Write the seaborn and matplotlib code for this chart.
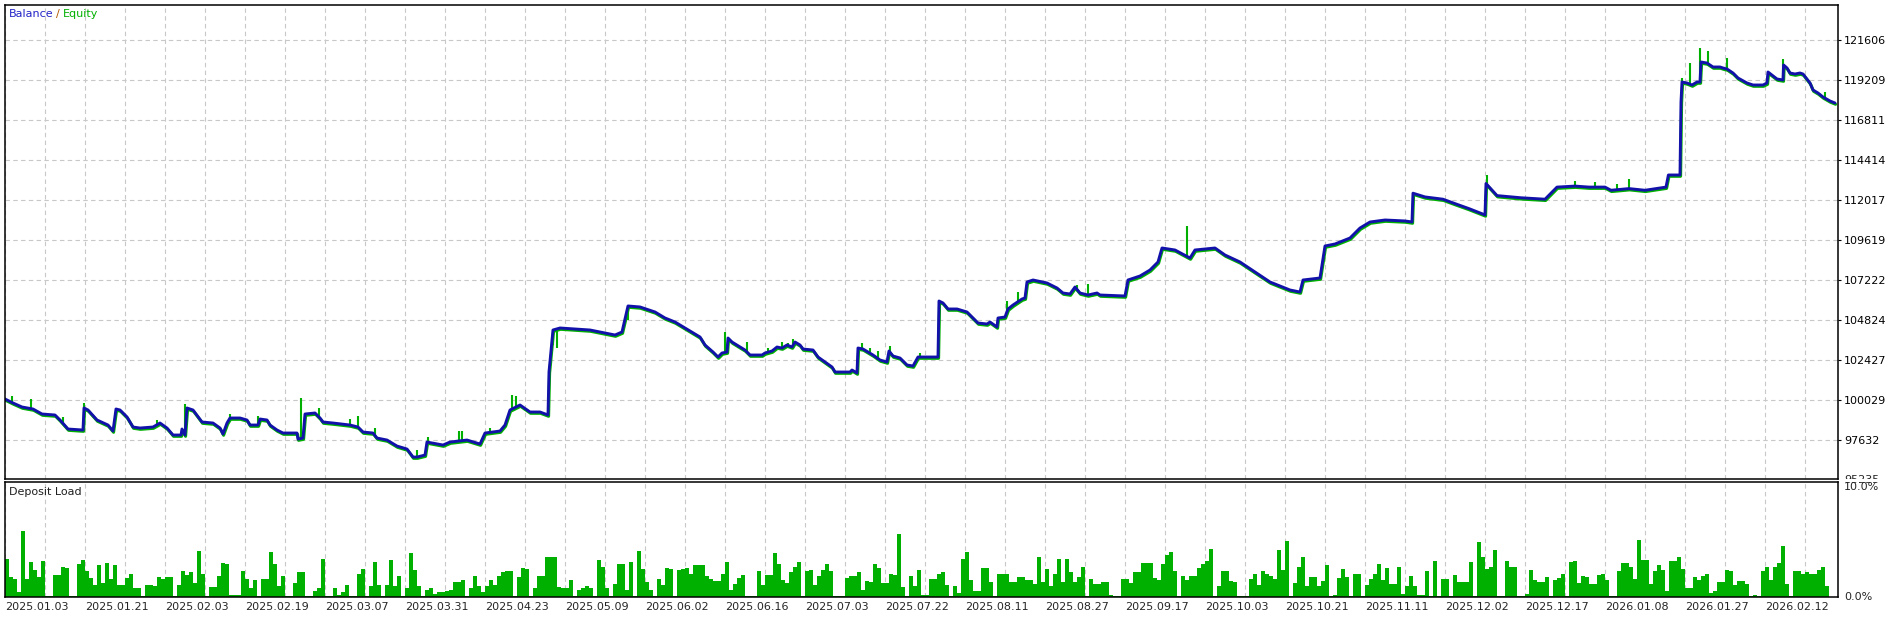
import numpy as np
import pandas as pd
import matplotlib
matplotlib.use("Agg")
import matplotlib.pyplot as plt
from matplotlib.patches import Rectangle
from matplotlib.transforms import offset_copy
import seaborn as sns

# Colors of the MT5 tester report
BLUE = "#1212AA"
GREEN = "#00B000"
GRID = "#C8C8C8"

W, H = 1893, 617

# x axis is the deal counter, every 40th deal gets its date
tick_dates = ["2025.01.03", "2025.01.21", "2025.02.03", "2025.02.19", "2025.03.07", "2025.03.31",
              "2025.04.23", "2025.05.09", "2025.06.02", "2025.06.16", "2025.07.03", "2025.07.22",
              "2025.08.11", "2025.08.27", "2025.09.17", "2025.10.03", "2025.10.21", "2025.11.11",
              "2025.12.02", "2025.12.17", "2026.01.08", "2026.01.27", "2026.02.12"]
deals_per_label = 40
n_deals = 916.5

price_ticks = [95235, 97632, 100029, 102427, 104824, 107222, 109619, 112017, 114414, 116811, 119209, 121606]

# Balance curve (deal, balance)
bal_x = [0, 4, 8.5, 14, 18.5, 25, 27.5, 31.5, 39, 39.5, 41.5, 46, 51.5, 54, 55.5, 57.5, 61, 64, 67.5, 74,
         77.5, 81, 84, 88, 88.5, 90, 91, 94, 98.5, 104, 107.5, 109, 111, 112.5, 117.5, 121, 122.5, 126.5,
         127.5, 131, 132.5, 136, 139, 146, 146.5, 149, 150, 155, 157.5, 159, 164, 172.5, 176.5, 179, 184,
         186, 191, 196, 201, 204, 206, 210, 211, 219, 222.5, 231, 237.5, 240, 247.5,
         250, 252.5, 257.5, 262.5, 267.5, 271.5, 272, 274, 277.5, 285, 292.5, 300, 305, 308.5, 311.5,
         317.5, 325, 330, 335, 340, 345, 347.5,
         350, 354, 356.5, 358.5, 361, 361.5, 363.5, 367.5, 370, 372.5, 378.5, 380, 383.5, 386, 388.5,
         391, 393.5, 395, 397.5, 399, 404, 406.5, 410, 413.5, 415, 422.5, 423.5, 426, 426.5, 429, 434,
         437.5, 441, 442, 444, 447.5, 451, 454, 456.5, 466.5, 467, 469, 471.5, 476, 481, 484, 486.5,
         491, 492.5, 496, 496.5, 500, 501.5, 504, 508.5, 510, 511, 514, 521, 526, 529, 532.5, 535,
         537.5, 541.5, 546,
         547.5, 560, 561.5, 567.5, 572.5, 576.5, 578.5, 585, 592.5, 595, 605, 610, 617.5, 625, 632.5,
         642.5, 647.5, 649, 657.5, 660, 665, 672.5, 677.5, 682.5, 690, 700, 703.5, 704, 710, 719,
         725, 732, 740, 740.5, 746, 758, 770, 773, 776, 785, 792, 800, 803, 812, 820, 830.5, 831.7,
         837.5, 838, 838.5, 841, 843.5, 846, 847.5, 848, 851, 852.5,
         854, 857.5, 859, 861, 864, 866.5, 871, 874, 879, 881, 881.5, 886, 889, 889.3, 891, 892.5, 895,
         897.5, 899, 902.5, 904, 906.5, 909, 912.5, 915]
bal_y = [100089, 99850, 99610, 99490, 99190, 99130, 98830, 98290, 98230, 99550, 99430, 98830, 98530,
         98170, 99490, 99430, 99010, 98410, 98350, 98410, 98650, 98350, 97930, 97930, 98290, 97930,
         99550, 99430, 98710, 98650, 98350, 97990, 98650, 98950, 98950, 98830, 98530, 98530, 98890,
         98830, 98530, 98230, 98050, 98050, 97690, 97750, 99190, 99250, 98950, 98710, 98650, 98530,
         98410, 98110, 98050, 97750, 97630, 97270, 97090, 96610, 96610, 96730, 97510, 97330, 97510,
         97630, 97390, 98050, 98170,
         98530, 99430, 99730, 99310, 99310, 99130, 101710, 104225, 104345, 104285, 104225, 104045,
         103925, 104105, 105665, 105605, 105305, 104945, 104705, 104345, 103985, 103805,
         103325, 102906, 102606, 102846, 102906, 103745, 103505, 103205, 103025, 102726, 102726,
         102846, 102966, 103205, 103145, 103325, 103205, 103505, 103325, 103085, 103025, 102606,
         102307, 102007, 101707, 101707, 101827, 101647, 103145, 103085, 102726, 102427, 102307,
         102966, 102666, 102546, 102127, 102067, 102606, 102606, 105963, 105843, 105484, 105484,
         105304, 104944, 104644, 104584, 104704, 104405, 104944, 105004, 105484, 105723, 106083,
         106143, 107102, 107222, 107042, 106742, 106442, 106383, 106802, 106442, 106323, 106442,
         106323, 106263, 107222, 107462, 107821, 108301, 109140, 109020, 108540, 109020, 109140,
         108720, 108301, 107702, 107102, 106622, 106502, 107222, 107342, 109260, 109380, 109739,
         110338, 110698, 110818, 110760, 110700, 112424, 112200, 112064, 111800, 111500, 111123,
         113005, 112280, 112150, 112064, 112424, 112790, 112850, 112790, 112790, 112600, 112700,
         112600, 112790, 113515, 113515, 117890, 119089, 119029, 118909, 119089, 119089,
         120287, 120227, 120108, 119988, 119988, 119928, 119868, 119628, 119329, 119029, 118909,
         118909, 119029, 119688, 119269, 119209, 120108, 119928, 119628, 119568, 119628, 119568,
         119029, 118609, 118429, 118190, 117950, 117830]

# Equity excursions away from the balance (deal, equity)
spike_x = [3.5, 13, 29, 39.5, 76, 90, 112.5, 126.5, 131.5, 148, 157, 172.5, 176.5, 185, 206, 211.5,
           227, 228.5, 242.5, 253.5, 255.5, 274, 276, 311.5, 360, 371, 381.5, 388.5, 391.5, 394,
           428.5, 432.5, 436.5, 442.5, 457.5, 501, 506.5, 536, 541.5, 591, 672.5, 741, 785, 795,
           806, 812, 838.5, 842.5, 847.5, 851.5, 861, 889, 910]
spike_y = [100269, 100089, 99010, 99850, 98830, 99790, 99190, 99070, 98710, 100149, 99550, 98890,
           99070, 98350, 97030, 97810, 98170, 98170, 98350, 100329, 100269, 103325, 103145, 104824,
           104105, 103505, 103145, 103505, 103445, 103685, 103445, 103145, 102966, 103265, 102846,
           105963, 106502, 106922, 106982, 110470, 109620, 113515, 113155, 113100, 113000, 113300,
           119329, 120228, 121126, 120946, 120527, 120467, 118489]

# Deposit load in %, one bar per two deals
deposit_load = [
    3.3, 1.7, 1.5, 0.4, 5.7, 1.5, 3.0, 2.3, 1.7, 3.1, 0.05, 0.05, 1.9, 1.9, 2.6, 2.5, 0.05, 0.05, 2.8,
    3.2, 2.2, 1.6, 1.0, 2.7, 1.2, 2.9, 1.5, 2.7, 1.0, 1.0, 1.6, 2.0, 0.7, 0.7, 0.05, 1.0, 1.0, 0.9, 1.7,
    1.5, 1.7, 1.7, 0.05, 1.0, 2.2, 1.9, 2.1, 1.2, 4.0, 2.0, 0.05, 0.8, 0.8, 1.8, 2.9, 2.8, 0.1, 0.1, 0.1,
    2.2, 1.5, 0.7, 1.4, 0.05, 1.5, 1.5, 3.9, 2.8, 0.9, 1.8, 0.05, 0.05, 1.2, 2.1, 2.1, 0.05, 0.05, 0.5,
    0.7, 3.3, 0.05, 0.05, 0.7, 0.1, 0.4, 1.0, 0.05, 0.05, 2.0, 2.4, 0.05, 0.9, 3.0, 1.0, 0.05, 1.0, 3.2,
    0.9, 1.8, 0.05, 0.7, 3.8, 2.3, 0.9, 0.05, 0.6, 0.7, 0.2, 0.4, 0.4, 0.5, 0.6, 1.3, 1.3,
    1.45, 0.05, 0.7, 1.8, 0.9, 0.4, 0.9, 1.45, 1.0, 1.8, 2.1, 2.2, 2.2, 0.05, 1.7, 2.5, 2.4, 0.05, 0.7,
    1.8, 1.8, 3.4, 3.4, 3.4, 0.8, 0.7, 0.7, 1.4, 0.05, 0.6, 0.7, 0.9, 0.7, 0.05, 3.2, 2.6, 0.7, 0.05,
    1.1, 2.85, 2.85, 0.6, 3.0, 0.05, 4.0, 2.4, 1.3, 0.6, 0.05, 1.5, 1.0, 2.5, 2.4, 0.05, 2.3, 2.4, 2.45,
    2.0, 2.7, 2.75, 2.75, 1.75, 1.5, 1.35, 1.35, 2.0, 3.0, 0.6, 1.1, 1.6, 1.9, 0.05, 0.05, 0.05, 2.2,
    1.0, 1.9, 1.9, 3.8, 2.8, 1.45, 1.2, 2.1, 2.6, 3.0, 0.05, 2.2, 2.3, 1.0, 1.8, 2.3, 2.85, 2.2, 0.05,
    0.05, 0.05, 1.6, 1.75, 1.75, 2.15, 0.6, 1.35, 1.25, 2.85, 2.5, 1.15, 1.15, 2.0, 1.9, 5.4, 0.8, 0.05,
    1.8, 0.9, 2.3, 0.1, 0.1, 1.55, 1.55, 2.0, 2.1, 1.0, 0.05, 0.9, 0.3, 3.3, 3.9, 1.45, 0.5, 0.5, 2.5,
    2.5, 1.25, 0.05, 2.0, 2.0, 2.0, 1.25, 1.25, 1.7, 1.7, 1.45, 1.45, 1.1, 3.4, 1.3, 2.4, 0.9, 2.0,
    3.25, 1.25, 3.3, 2.1, 1.3, 1.7, 2.6, 0.05, 1.5, 1.1, 1.1, 1.25, 1.25, 0.1, 0.05, 0.05, 1.5, 1.5,
    1.2, 2.1, 2.1, 2.9, 2.9, 2.9, 1.6, 1.45, 2.85, 3.6, 3.9, 2.2, 0.05, 1.75, 1.45, 1.8, 1.8, 2.5, 2.8,
    3.1, 4.15, 0.05, 0.9, 2.2, 2.2, 1.35, 1.25, 0.05, 0.05, 0.05, 1.5, 2.0, 1.0, 2.2, 2.0, 1.75, 1.5,
    4.05, 2.3, 4.85, 0.05, 1.2, 2.55, 3.4, 0.9, 1.7, 1.7, 0.9, 1.35, 2.7, 0.05, 0.1, 1.6, 2.4, 1.7,
    0.05, 2.0, 2.0, 0.05,
    1.0, 1.55, 2.0, 2.8, 1.45, 2.5, 1.1, 1.1, 2.55, 0.2, 0.9, 1.8, 0.9, 0.1, 0.1, 2.2, 0.05, 3.1, 0.05,
    1.5, 1.5, 0.05, 1.9, 1.25, 1.25, 1.25, 3.0, 0.05, 4.75, 3.4, 2.4, 2.6, 4.05, 0.05, 0.05, 3.1, 2.6,
    2.6, 0.05, 0.05, 0.2, 2.3, 1.45, 1.3, 1.25, 1.7, 0.05, 1.45, 1.65, 2.0, 0.05, 3.0, 3.1, 1.2, 1.8,
    1.7, 1.1, 1.1, 1.9, 2.0, 1.45, 0.05, 0.05, 2.2, 2.9, 2.95, 2.6, 1.5, 4.9, 3.2, 3.2, 1.1, 2.25, 2.75,
    2.3, 0.5, 3.1, 3.1, 3.4, 2.4, 0.7, 0.7, 1.7, 1.4, 1.8, 1.95, 0.3, 0.5, 1.3, 1.3, 2.3, 2.2, 1.0,
    1.35, 1.35, 1.1, 0.05, 0.1, 0.05, 2.25, 2.6, 1.45, 2.6, 2.9, 4.35, 1.1, 0.05, 2.2, 2.2, 2.0, 2.1,
    2.0, 2.0, 2.3, 2.6, 0.9]

sns.set_style("white")
plt.rcParams["font.family"] = ["DejaVu Sans"]
plt.rcParams["font.size"] = 8

fig = plt.figure(figsize=(W / 100, H / 100), dpi=100)
ax = fig.add_axes([5 / W, 1 - 478.5 / H, 1833 / W, 473.5 / H])
ax2 = fig.add_axes([5 / W, 1 - 596.5 / H, 1833 / W, 115 / H])

grid_style = dict(color=GRID, linestyle=(0, (4, 3)), linewidth=0.8)

# Balance / equity panel: equity drawn a touch lower so it peeks out under the balance
sns.lineplot(x=bal_x, y=bal_y, ax=ax, color=GREEN, linewidth=2.2, sort=False, estimator=None)
ax.lines[-1].set_transform(offset_copy(ax.transData, fig=fig, x=0.6, y=-1.3, units="dots"))
ax.vlines(spike_x, np.interp(spike_x, bal_x, bal_y), spike_y, color=GREEN, linewidth=1.5)
sns.lineplot(x=bal_x, y=bal_y, ax=ax, color=BLUE, linewidth=2.1, sort=False, estimator=None)

ax.set_xlim(0, n_deals)
ax.set_ylim(95325, 123704)
ax.yaxis.tick_right()
ax.set_yticks(price_ticks[1:])
ax.set_yticklabels([str(v) for v in price_ticks[1:]])
ax.set_xticks(np.arange(0, n_deals, deals_per_label / 2))
ax.tick_params(axis="x", length=0, labelbottom=False)
ax.tick_params(axis="y", direction="out", length=2.2, width=0.8, pad=2, labelsize=8, colors="black")
ax.grid(True, **grid_style)
ax.set_xlabel("")
ax.set_ylabel("")
# lowest price label is half hidden under the lower panel
ax.annotate(str(price_ticks[0]), xy=(1, price_ticks[0]), xycoords=ax.get_yaxis_transform(),
            xytext=(4.2, 0), textcoords="offset points", va="center", fontsize=8,
            annotation_clip=False)

# Deposit load panel
load_df = pd.DataFrame({"deal": 2 * np.arange(len(deposit_load)) + 1, "load": deposit_load})
sns.barplot(data=load_df, x="deal", y="load", ax=ax2, native_scale=True, width=1.0,
            color=GREEN, saturation=1, errorbar=None, linewidth=0)
ax2.set_xlim(0, n_deals)
ax2.set_ylim(0, 10)
ax2.yaxis.tick_right()
ax2.set_yticks([0, 10])
ax2.set_yticklabels(["0.0%", "10.0%"])
ax2.get_yticklabels()[1].set_va("top")
ax2.set_xticks(np.arange(0, n_deals, deals_per_label))
ax2.set_xticks(np.arange(deals_per_label / 2, n_deals, deals_per_label), minor=True)
ax2.set_xticklabels(tick_dates, ha="left")
ax2.tick_params(axis="x", which="major", direction="out", length=2.2, width=0.8, pad=2, labelsize=8)
ax2.tick_params(axis="x", which="minor", length=0)
ax2.tick_params(axis="y", direction="out", length=0, pad=4.2, labelsize=8)
ax2.grid(True, axis="x", which="both", **grid_style)
ax2.set_axisbelow(True)
ax2.set_xlabel("")
ax2.set_ylabel("")

for a in (ax, ax2):
    for s in a.spines.values():
        s.set_color("black")
        s.set_linewidth(1.1)

fig.add_artist(Rectangle((1839 / W, 1 - 482.3 / H), (W - 1839) / W, 3.0 / H,
                         transform=fig.transFigure, facecolor="white", edgecolor="none", zorder=3))

fig.text(9 / W, 1 - 14 / H, "Balance", color="#2323C8", fontsize=8, va="center")
fig.text(56 / W, 1 - 14 / H, "/", color="#B05A00", fontsize=8, va="center")
fig.text(63 / W, 1 - 14 / H, "Equity", color=GREEN, fontsize=8, va="center")
fig.text(9 / W, 1 - 492 / H, "Deposit Load", color="#202020", fontsize=8, va="center")

fig.savefig("out.png", dpi=100)
